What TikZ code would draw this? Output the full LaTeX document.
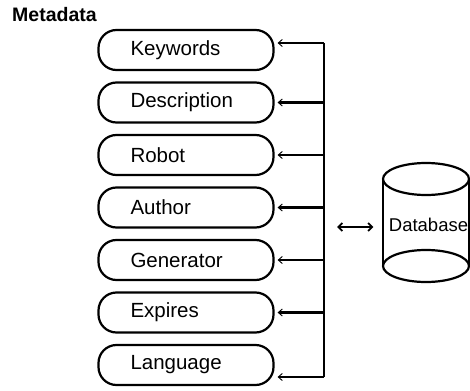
\documentclass[tikz,border=0pt]{standalone}
\usepackage{fontspec}
\setmainfont{Liberation Sans}
\usetikzlibrary{arrows.meta}

\begin{document}
\begin{tikzpicture}[x=1pt,y=-1pt,
  meta/.style={draw, line width=2.2pt, rounded corners=18pt,
    minimum height=40pt, text width=111pt, inner xsep=32pt,
    align=left, font=\fontsize{20.5}{24}\selectfont},
  feed/.style={line width=2.2pt, shorten >=3pt,
    -{Straight Barb[length=4pt,width=7pt,line width=0.9pt]}}]
  \useasboundingbox (0,0) rectangle (470,390);
  \node[font=\bfseries\fontsize{19.5}{23}\selectfont, anchor=west, inner sep=0pt] (title) at (12,15) {Metadata};

  \node[meta] (kw) at (186,50) {Keywords};
  \node[meta] (desc) at (186,102.5) {Description};
  \node[meta] (robot) at (186,155) {Robot};
  \node[meta] (author) at (186,207.5) {Author};
  \node[meta] (gen) at (186,260) {Generator};
  \node[meta] (exp) at (186,312.5) {Expires};
  \node[meta] (lang) at (186,365) {Language};

  % bus line to the database
  \coordinate (top) at (324,43);
  \coordinate (bot) at (324,377);
  \draw[line width=2.2pt] (top) -- (bot);
  \draw[feed] (top) -- (kw.east |- top);
  \draw[feed] (324,102.5) -- (desc.east);
  \draw[feed] (324,155) -- (robot.east);
  \draw[feed] (324,207.5) -- (author.east);
  \draw[feed] (324,260) -- (gen.east);
  \draw[feed] (324,312.5) -- (exp.east);
  \draw[feed] (bot) -- (lang.east |- bot);

  % database cylinder
  \draw[line width=2.2pt] (426,179) ellipse [x radius=43pt, y radius=16pt];
  \draw[line width=2.2pt] (426,266) ellipse [x radius=43pt, y radius=16pt];
  \draw[line width=2.2pt] (383,179) -- (383,266) (469,179) -- (469,266);
  \node[minimum width=86pt, minimum height=119pt, font=\fontsize{18.5}{22}\selectfont] (db) at (428.5,225) {Database};

  \draw[line width=1.8pt, shorten <=13pt, shorten >=12pt,
    {Straight Barb[length=4pt,width=8pt]}-{Straight Barb[length=4pt,width=8pt]}]
    (324,227) -- (db.west |- 324,227);
\end{tikzpicture}
\end{document}
